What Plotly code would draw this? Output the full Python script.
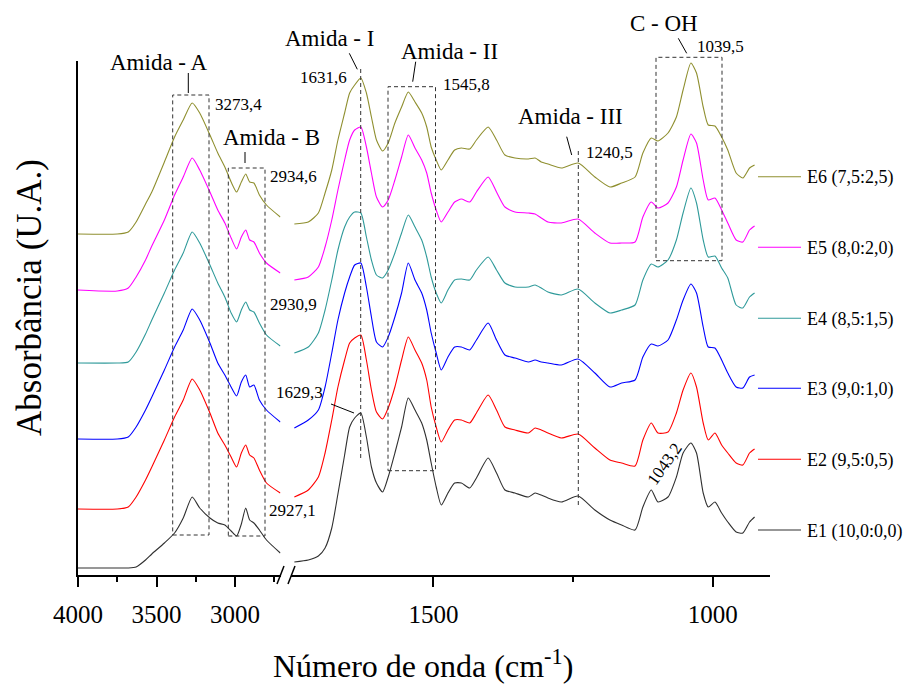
import plotly.graph_objects as go

FONT = "Liberation Serif, Times New Roman, serif"

# ---------------- data (arbitrary absorbance units, spectra offset) ----------------
WN_LEFT = [4000, 3750, 3680, 3630, 3570, 3530, 3450, 3385, 3330, 3273, 3225, 3160,
           3110, 3065, 3025, 2990, 2960, 2932, 2907, 2880, 2845, 2800, 2712]

WN_RIGHT = [1749, 1724, 1706, 1694, 1682, 1671, 1659, 1650, 1641, 1630, 1620, 1611,
            1602, 1591, 1581, 1569, 1557, 1545, 1533, 1521, 1512, 1504, 1495, 1486,
            1474, 1462, 1450, 1435, 1423, 1402, 1387, 1372, 1354, 1330, 1318, 1307,
            1295, 1271, 1241, 1211, 1184, 1163, 1139, 1125, 1110, 1098, 1080, 1065,
            1053, 1039, 1029, 1017, 1008, 996, 984, 973, 958, 946, 934, 925]

E1_LEFT = [7, 7, 7, 8, 15, 21, 32, 42, 57, 78, 67, 57, 52, 50, 44, 39, 51, 67, 55, 52, 45, 35, 22]
E2_LEFT = [66, 66, 68, 78, 95, 108, 135, 158, 175, 196, 185, 162, 142, 130, 118, 108, 122, 130, 120, 117, 105, 92, 82]
E3_LEFT = [136, 136, 138, 148, 165, 178, 205, 228, 245, 266, 255, 232, 212, 200, 188, 179, 193, 200, 188, 190, 175, 165, 153]
E4_LEFT = [212, 212, 213, 223, 241, 255, 282, 305, 322, 343, 332, 310, 292, 278, 262, 253, 265, 273, 265, 263, 252, 240, 229]
E5_LEFT = [285, 284, 287, 298, 315, 329, 355, 380, 398, 417, 405, 383, 365, 352, 337, 326, 338, 345, 335, 333, 322, 312, 302]
E6_LEFT = [341, 341, 343, 353, 371, 383, 413, 438, 455, 472, 462, 440, 422, 408, 393, 383, 393, 401, 393, 392, 380, 370, 358]

E1_RIGHT = [13, 15, 19, 27, 47, 81, 120, 148, 157, 162, 138, 108, 92, 83, 98, 122, 148, 177, 165, 152,
            135, 112, 88, 70, 82, 92, 92, 87, 97, 117, 102, 85, 82, 78, 82, 80, 77, 73, 79, 65,
            55, 50, 45, 68, 85, 73, 78, 98, 122, 132, 122, 82, 68, 73, 62, 53, 43, 42, 53, 58]
E2_RIGHT = [78, 85, 98, 122, 155, 188, 215, 232, 237, 240, 215, 185, 163, 156, 167, 188, 215, 238, 225, 212,
            195, 168, 148, 133, 145, 155, 155, 152, 162, 180, 165, 148, 145, 142, 147, 145, 142, 137, 141, 127,
            115, 112, 109, 135, 152, 142, 143, 162, 185, 202, 188, 152, 135, 142, 130, 122, 112, 110, 122, 126]
E3_RIGHT = [147, 155, 165, 188, 222, 255, 282, 298, 310, 312, 288, 258, 233, 228, 238, 258, 282, 312, 295, 282,
            265, 242, 222, 205, 218, 228, 228, 225, 235, 252, 235, 220, 217, 213, 215, 213, 212, 210, 216, 202,
            188, 192, 195, 218, 231, 229, 235, 255, 275, 291, 282, 248, 228, 227, 215, 202, 188, 187, 198, 200]
E4_RIGHT = [222, 228, 242, 265, 295, 325, 348, 358, 363, 362, 338, 315, 300, 297, 305, 322, 342, 360, 348, 335,
            318, 298, 282, 272, 285, 295, 296, 295, 305, 318, 305, 292, 288, 288, 290, 287, 283, 280, 286, 272,
            262, 265, 270, 295, 311, 308, 315, 335, 362, 387, 372, 335, 318, 319, 307, 297, 270, 267, 278, 282]
E5_RIGHT = [295, 298, 308, 328, 355, 385, 415, 435, 445, 448, 428, 402, 378, 368, 375, 395, 418, 440, 427, 415,
            402, 382, 365, 353, 363, 373, 376, 373, 383, 398, 383, 368, 363, 362, 361, 357, 353, 352, 356, 342,
            332, 332, 333, 358, 373, 367, 372, 388, 415, 441, 432, 395, 375, 377, 365, 352, 335, 333, 345, 349]
E6_RIGHT = [351, 353, 362, 382, 405, 435, 462, 482, 490, 497, 482, 458, 435, 424, 432, 452, 468, 483, 473, 462,
            448, 428, 415, 405, 415, 425, 427, 426, 435, 448, 435, 420, 417, 416, 417, 413, 411, 407, 412, 398,
            388, 392, 398, 422, 437, 434, 442, 458, 485, 512, 502, 468, 450, 449, 438, 425, 402, 397, 407, 410]

SERIES_NAMES = ["E1 (10,0:0,0)", "E2 (9,5:0,5)", "E3 (9,0:1,0)",
                "E4 (8,5:1,5)", "E5 (8,0:2,0)", "E6 (7,5:2,5)"]
LEFT_VALUES = [E1_LEFT, E2_LEFT, E3_LEFT, E4_LEFT, E5_LEFT, E6_LEFT]
RIGHT_VALUES = [E1_RIGHT, E2_RIGHT, E3_RIGHT, E4_RIGHT, E5_RIGHT, E6_RIGHT]
COLORS = ["#303030", "#ff0000", "#0000ff", "#2f9a9a", "#ff00ff", "#8f8f2f"]

TICK_LEFT = [4000, 3500, 3000]
TICK_RIGHT = [1500, 1000]

# ---------------- geometry helpers ----------------
W, H = 909, 684
ML, MR, MT, MB = 78, 139, 61, 109
PW, PH = W - ML - MR, H - MT - MB


def px(x):
    return (x - ML) / PW


def py(y):
    return (H - MB - y) / PH


fig = go.Figure()
for name, lv, rv, c in zip(SERIES_NAMES, LEFT_VALUES, RIGHT_VALUES, COLORS):
    fig.add_trace(go.Scatter(x=WN_LEFT, y=lv, xaxis="x", yaxis="y", mode="lines", name=name,
                             line=dict(color=c, width=1.1, shape="spline", smoothing=0.6),
                             showlegend=False, hoverinfo="skip"))
    fig.add_trace(go.Scatter(x=WN_RIGHT, y=rv, xaxis="x2", yaxis="y", mode="lines", name=name,
                             line=dict(color=c, width=1.1, shape="spline", smoothing=0.6),
                             showlegend=False, hoverinfo="skip"))

shapes = []
annotations = []
DASH = dict(color="#333333", width=1, dash="4px,3px")

# dashed boxes / lines
for (x0, x1, y0, y1) in [(172.7, 209, 95, 535), (228.3, 265, 168, 536),
                         (388, 435.5, 86.7, 470.7), (656, 722, 57.3, 260.7)]:
    shapes.append(dict(type="rect", xref="paper", yref="paper", x0=px(x0), x1=px(x1),
                       y0=py(y1), y1=py(y0), line=DASH, layer="above"))
for (x, y0, y1) in [(360.7, 69, 458), (578.3, 148, 505)]:
    shapes.append(dict(type="line", xref="paper", yref="paper", x0=px(x), x1=px(x),
                       y0=py(y1), y1=py(y0), line=DASH))

# leader lines
for (x0, y0, x1, y1) in [(188.3, 73, 188.3, 93), (245, 152, 245, 163), (349.3, 53.3, 357.3, 69.3),
                         (415.7, 61.7, 412.7, 81.7), (566.7, 136.7, 571.7, 155),
                         (678.3, 38.3, 686.7, 53.3), (331, 404, 354, 413)]:
    shapes.append(dict(type="line", xref="paper", yref="paper", x0=px(x0), x1=px(x1),
                       y0=py(y0), y1=py(y1), line=dict(color="black", width=1)))

# axis break marks
for (x0, x1) in [(277, 284), (288, 295)]:
    shapes.append(dict(type="line", xref="paper", yref="paper", x0=px(x0), x1=px(x1),
                       y0=py(584), y1=py(566), line=dict(color="black", width=1.5)))

# labels
for (t, x, y, s) in [("Amida - A", 158, 62, 23), ("3273,4", 238, 104, 17),
                     ("Amida - B", 271, 137, 23), ("2934,6", 293, 176, 17),
                     ("2930,9", 293, 304, 17), ("2927,1", 292, 510, 17),
                     ("Amida - I", 329, 39, 23), ("1631,6", 323, 77, 17),
                     ("Amida - II", 449, 51, 23), ("1545,8", 466, 85, 17),
                     ("Amida - III", 570, 117, 23), ("1240,5", 609, 152, 17),
                     ("C - OH", 664, 23, 23), ("1039,5", 720, 46, 17),
                     ("1629,3", 299, 393, 17)]:
    annotations.append(dict(text=t, xref="paper", yref="paper", x=px(x), y=py(y),
                            showarrow=False, xanchor="center", yanchor="middle",
                            font=dict(family=FONT, size=s, color="black")))
annotations.append(dict(text="1043,2", xref="paper", yref="paper", x=px(664), y=py(464),
                        showarrow=False, textangle=-55, xanchor="center", yanchor="middle",
                        font=dict(family=FONT, size=17, color="black")))

# manual legend aligned with each spectrum
LEGEND_Y = [530, 459.3, 388.3, 318.3, 247.3, 176.7]
for name, c, y in zip(SERIES_NAMES, COLORS, LEGEND_Y):
    shapes.append(dict(type="line", xref="paper", yref="paper", x0=px(758), x1=px(801),
                       y0=py(y), y1=py(y), line=dict(color=c, width=1.1)))
    annotations.append(dict(text=name, xref="paper", yref="paper", x=px(805), y=py(y + 1),
                            showarrow=False, xanchor="left", yanchor="middle",
                            font=dict(family=FONT, size=18, color="black")))

# axis titles
annotations.append(dict(text="Número de onda (cm<sup>-1</sup>)", xref="paper", yref="paper",
                        x=px(423), y=py(664), showarrow=False, xanchor="center", yanchor="middle",
                        font=dict(family=FONT, size=32, color="black")))
annotations.append(dict(text="Absorbância (U.A.)", xref="paper", yref="paper",
                        x=px(29), y=py(298), showarrow=False, textangle=-90,
                        xanchor="center", yanchor="middle",
                        font=dict(family=FONT, size=35, color="black")))

axis_common = dict(showline=True, linecolor="black", linewidth=1.5, showgrid=False,
                   zeroline=False, ticks="outside", ticklen=10, tickwidth=1.5,
                   tickcolor="black", ticklabelstandoff=6,
                   tickfont=dict(family=FONT, size=25, color="black"))

fig.update_layout(
    width=W, height=H,
    margin=dict(l=ML, r=MR, t=MT, b=MB),
    paper_bgcolor="white", plot_bgcolor="white",
    showlegend=False,
    xaxis=dict(domain=[0, px(280.6)], range=[4000, 2710], anchor="y",
               tickvals=TICK_LEFT,
               minor=dict(ticks="outside", ticklen=5, tickwidth=1.5, tickcolor="black",
                          tickvals=[3750, 3250, 2750]),
               **axis_common),
    xaxis2=dict(domain=[px(291), 1], range=[1755, 897.4], anchor="y",
                tickvals=TICK_RIGHT,
                minor=dict(ticks="outside", ticklen=5, tickwidth=1.5, tickcolor="black",
                           tickvals=[1250]),
                **axis_common),
    yaxis=dict(domain=[0, 1], range=[0, 514], anchor="x", showline=True, linecolor="black",
               linewidth=1.5, showticklabels=False, ticks="", showgrid=False, zeroline=False),
    shapes=shapes,
    annotations=annotations,
)

fig.write_html("out.html")
